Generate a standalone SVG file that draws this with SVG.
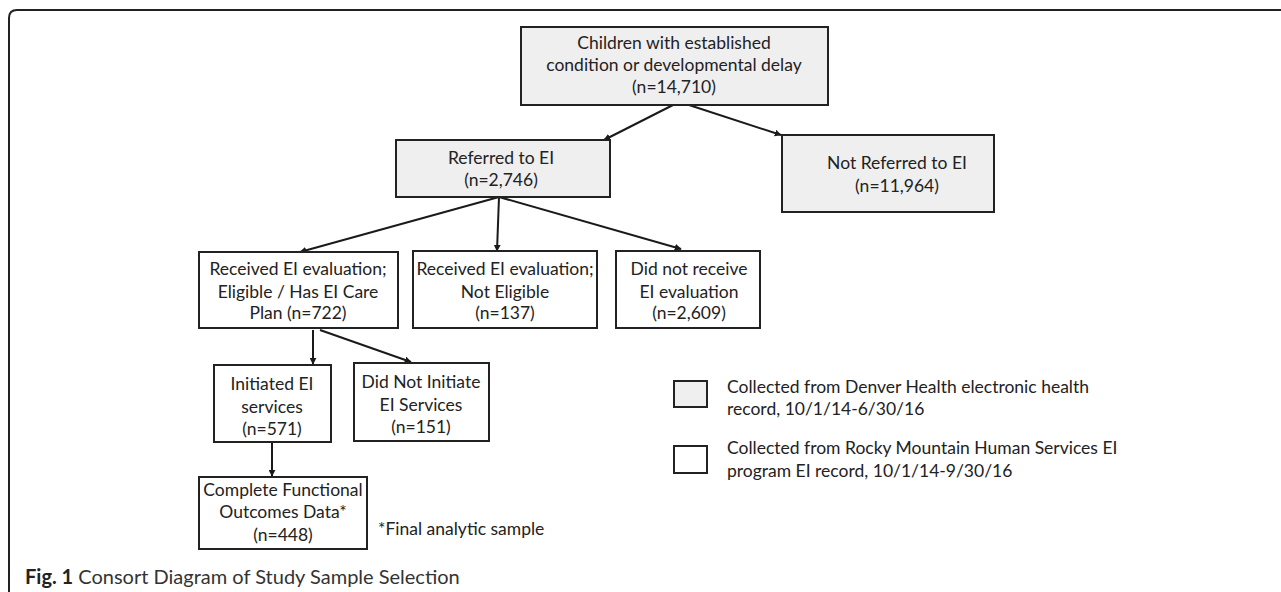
<svg xmlns="http://www.w3.org/2000/svg" width="1281" height="592" viewBox="0 0 1281 592">
<style>
.g{fill:#efefef;stroke:#222;stroke-width:2}
.w{fill:#fff;stroke:#222;stroke-width:2}
text{font-family:Lato,"Open Sans","Liberation Sans",sans-serif;font-size:17.5px;fill:#222}
.c{text-anchor:middle}
.e{stroke:#1a1a1a;stroke-width:2;fill:none;marker-end:url(#ah)}
</style>
<defs>
<marker id="ah" viewBox="0 0 10 10" refX="9" refY="5" markerWidth="3.5" markerHeight="3.5" orient="auto" markerUnits="strokeWidth">
<path d="M0,0 L10,5 L0,10 z" fill="#1a1a1a"/>
</marker>
</defs>
<rect width="1281" height="592" fill="#fff"/>
<path d="M1281 10 H17 Q9 10 9 18 V592" fill="none" stroke="#222" stroke-width="2"/>

<g id="connectors">
<line class="e" x1="673" y1="105" x2="604" y2="140"/>
<line class="e" x1="689" y1="105" x2="781" y2="135"/>
<line class="e" x1="499" y1="197" x2="300" y2="252"/>
<line class="e" x1="499" y1="197" x2="497" y2="251"/>
<line class="e" x1="499" y1="197" x2="681" y2="249"/>
<line class="e" x1="313" y1="330" x2="313" y2="364"/>
<line class="e" x1="320" y1="330" x2="411" y2="362"/>
<line class="e" x1="272" y1="442" x2="272" y2="476"/>
</g>

<g id="n-children">
<rect class="g" x="521" y="27" width="307" height="78"/>
<text class="c" x="674" y="49">Children with established</text>
<text class="c" x="674" y="71">condition or developmental delay</text>
<text class="c" x="674" y="93">(n=14,710)</text>
</g>
<g id="n-referred">
<rect class="g" x="396" y="140" width="214" height="57"/>
<text class="c" x="501" y="164">Referred to EI</text>
<text class="c" x="501" y="186">(n=2,746)</text>
</g>
<g id="n-notreferred">
<rect class="g" x="782" y="135" width="212" height="77"/>
<text class="c" x="897" y="169">Not Referred to EI</text>
<text class="c" x="897" y="192">(n=11,964)</text>
</g>
<g id="n-eligible">
<rect class="w" x="199" y="252" width="199" height="76"/>
<text class="c" x="298" y="275">Received EI evaluation;</text>
<text class="c" x="298" y="298">Eligible / Has EI Care</text>
<text class="c" x="298" y="319">Plan (n=722)</text>
</g>
<g id="n-noteligible">
<rect class="w" x="413" y="251" width="184" height="77"/>
<text class="c" x="505" y="275">Received EI evaluation;</text>
<text class="c" x="505" y="298">Not Eligible</text>
<text class="c" x="505" y="319">(n=137)</text>
</g>
<g id="n-noeval">
<rect class="w" x="616" y="251" width="144" height="77"/>
<text class="c" x="689" y="275">Did not receive</text>
<text class="c" x="689" y="298">EI evaluation</text>
<text class="c" x="689" y="319">(n=2,609)</text>
</g>
<g id="n-initiated">
<rect class="w" x="214" y="365" width="117" height="77"/>
<text class="c" x="272" y="390">Initiated EI</text>
<text class="c" x="272" y="413">services</text>
<text class="c" x="272" y="435">(n=571)</text>
</g>
<g id="n-notinitiated">
<rect class="w" x="354" y="363" width="135" height="78"/>
<text class="c" x="421" y="388">Did Not Initiate</text>
<text class="c" x="421" y="411">EI Services</text>
<text class="c" x="421" y="433">(n=151)</text>
</g>
<g id="n-complete">
<rect class="w" x="199" y="477" width="168" height="72"/>
<text class="c" x="283" y="496">Complete Functional</text>
<text class="c" x="283" y="518">Outcomes Data*</text>
<text class="c" x="283" y="541">(n=448)</text>
</g>
<text x="378" y="535">*Final analytic sample</text>

<g id="legend">
<rect class="g" x="674" y="381" width="33" height="26"/>
<text x="727" y="393">Collected from Denver Health electronic health</text>
<text x="727" y="415">record, 10/1/14-6/30/16</text>
<rect class="w" x="674" y="446" width="33" height="27"/>
<text x="727" y="454">Collected from Rocky Mountain Human Services EI</text>
<text x="727" y="477">program EI record, 10/1/14-9/30/16</text>
</g>

<text x="25" y="584" style="font-size:20px;fill:#333"><tspan font-weight="bold" fill="#222">Fig. 1</tspan> Consort Diagram of Study Sample Selection</text>
</svg>
